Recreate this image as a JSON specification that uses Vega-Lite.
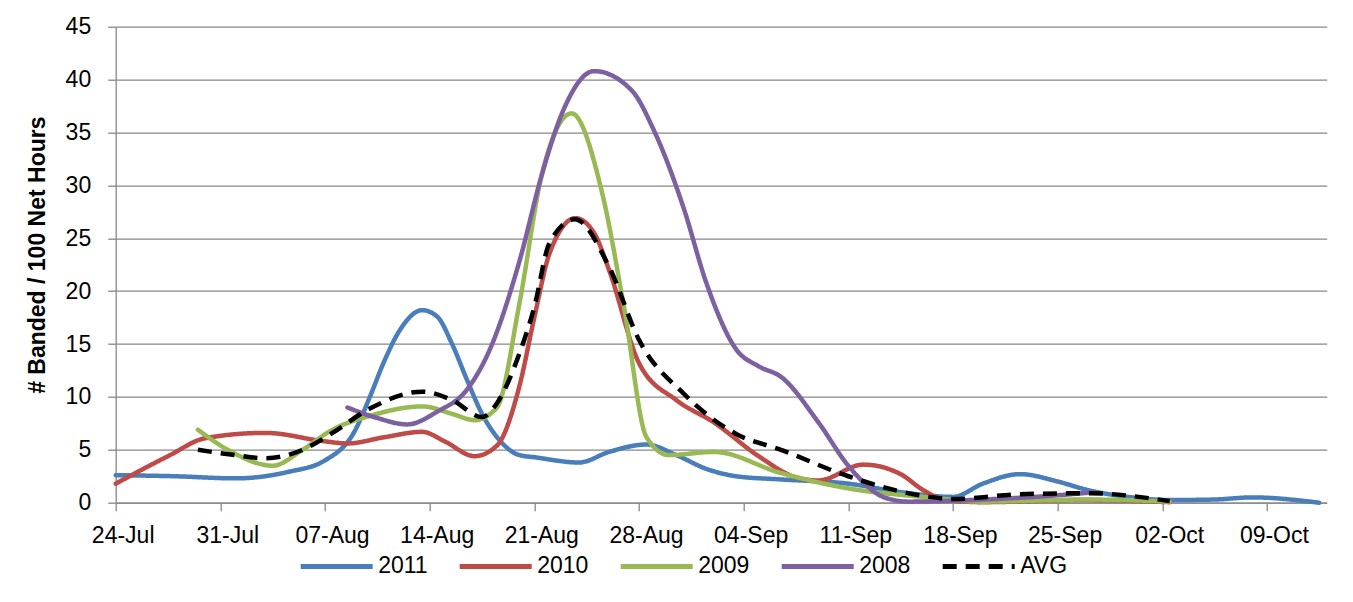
{
  "$schema": "https://vega.github.io/schema/vega-lite/v6.json",
  "width": 1211,
  "height": 476,
  "autosize": "none",
  "padding": {"left": 115.7, "top": 26.7, "right": 26.3, "bottom": 99.3},
  "background": "white",
  "config": {
    "view": {"stroke": null},
    "font": "Liberation Sans",
    "legend": {
      "orient": "none",
      "legendX": 182.5,
      "legendY": 501,
      "direction": "horizontal",
      "symbolType": "stroke",
      "symbolSize": 5184,
      "symbolStrokeWidth": 5,
      "labelFontSize": 23,
      "labelFont": "Liberation Sans",
      "labelColor": "black",
      "labelOffset": 3,
      "columnPadding": 21
    }
  },
  "data": {
    "values": [
      {"s": "2011", "d": "2011-07-24T00:00:00Z", "v": 2.6},
      {"s": "2011", "d": "2011-07-28T00:00:00Z", "v": 2.5},
      {"s": "2011", "d": "2011-08-01T00:00:00Z", "v": 2.3},
      {"s": "2011", "d": "2011-08-04T12:00:00Z", "v": 2.9},
      {"s": "2011", "d": "2011-08-07T00:00:00Z", "v": 4.0},
      {"s": "2011", "d": "2011-08-09T00:00:00Z", "v": 6.8},
      {"s": "2011", "d": "2011-08-10T00:00:00Z", "v": 10.0},
      {"s": "2011", "d": "2011-08-11T00:00:00Z", "v": 13.5},
      {"s": "2011", "d": "2011-08-12T00:00:00Z", "v": 16.3},
      {"s": "2011", "d": "2011-08-13T12:00:00Z", "v": 18.2},
      {"s": "2011", "d": "2011-08-14T12:00:00Z", "v": 17.6},
      {"s": "2011", "d": "2011-08-15T12:00:00Z", "v": 15.0},
      {"s": "2011", "d": "2011-08-16T12:00:00Z", "v": 11.6},
      {"s": "2011", "d": "2011-08-17T12:00:00Z", "v": 8.4},
      {"s": "2011", "d": "2011-08-18T12:00:00Z", "v": 6.2},
      {"s": "2011", "d": "2011-08-20T00:00:00Z", "v": 4.5},
      {"s": "2011", "d": "2011-08-21T00:00:00Z", "v": 4.3},
      {"s": "2011", "d": "2011-08-24T00:00:00Z", "v": 3.8},
      {"s": "2011", "d": "2011-08-26T00:00:00Z", "v": 4.8},
      {"s": "2011", "d": "2011-08-28T12:00:00Z", "v": 5.5},
      {"s": "2011", "d": "2011-08-30T12:00:00Z", "v": 4.5},
      {"s": "2011", "d": "2011-09-01T12:00:00Z", "v": 3.2},
      {"s": "2011", "d": "2011-09-03T12:00:00Z", "v": 2.5},
      {"s": "2011", "d": "2011-09-06T12:00:00Z", "v": 2.2},
      {"s": "2011", "d": "2011-09-11T00:00:00Z", "v": 1.8},
      {"s": "2011", "d": "2011-09-14T12:00:00Z", "v": 1.0},
      {"s": "2011", "d": "2011-09-18T00:00:00Z", "v": 0.55},
      {"s": "2011", "d": "2011-09-20T00:00:00Z", "v": 1.8},
      {"s": "2011", "d": "2011-09-22T12:00:00Z", "v": 2.7},
      {"s": "2011", "d": "2011-09-25T00:00:00Z", "v": 2.0},
      {"s": "2011", "d": "2011-09-27T00:00:00Z", "v": 1.2},
      {"s": "2011", "d": "2011-09-30T00:00:00Z", "v": 0.5},
      {"s": "2011", "d": "2011-10-02T12:00:00Z", "v": 0.25},
      {"s": "2011", "d": "2011-10-05T12:00:00Z", "v": 0.3},
      {"s": "2011", "d": "2011-10-08T00:00:00Z", "v": 0.5},
      {"s": "2011", "d": "2011-10-12T12:00:00Z", "v": 0.0},

      {"s": "2010", "d": "2011-07-24T00:00:00Z", "v": 1.8},
      {"s": "2010", "d": "2011-07-27T12:00:00Z", "v": 4.4},
      {"s": "2010", "d": "2011-07-30T00:00:00Z", "v": 6.1},
      {"s": "2010", "d": "2011-08-03T00:00:00Z", "v": 6.6},
      {"s": "2010", "d": "2011-08-07T00:00:00Z", "v": 5.8},
      {"s": "2010", "d": "2011-08-08T12:00:00Z", "v": 5.6},
      {"s": "2010", "d": "2011-08-11T00:00:00Z", "v": 6.2},
      {"s": "2010", "d": "2011-08-13T12:00:00Z", "v": 6.7},
      {"s": "2010", "d": "2011-08-15T00:00:00Z", "v": 5.8},
      {"s": "2010", "d": "2011-08-17T00:00:00Z", "v": 4.4},
      {"s": "2010", "d": "2011-08-18T12:00:00Z", "v": 5.4},
      {"s": "2010", "d": "2011-08-20T00:00:00Z", "v": 11.0},
      {"s": "2010", "d": "2011-08-21T00:00:00Z", "v": 17.5},
      {"s": "2010", "d": "2011-08-22T00:00:00Z", "v": 23.5},
      {"s": "2010", "d": "2011-08-23T18:00:00Z", "v": 26.9},
      {"s": "2010", "d": "2011-08-25T00:00:00Z", "v": 25.5},
      {"s": "2010", "d": "2011-08-26T00:00:00Z", "v": 22.0},
      {"s": "2010", "d": "2011-08-28T00:00:00Z", "v": 13.2},
      {"s": "2010", "d": "2011-08-30T12:00:00Z", "v": 9.7},
      {"s": "2010", "d": "2011-09-02T00:00:00Z", "v": 7.6},
      {"s": "2010", "d": "2011-09-05T00:00:00Z", "v": 4.4},
      {"s": "2010", "d": "2011-09-07T12:00:00Z", "v": 2.4},
      {"s": "2010", "d": "2011-09-09T00:00:00Z", "v": 2.1},
      {"s": "2010", "d": "2011-09-12T00:00:00Z", "v": 3.6},
      {"s": "2010", "d": "2011-09-14T12:00:00Z", "v": 2.7},
      {"s": "2010", "d": "2011-09-16T00:00:00Z", "v": 1.2},
      {"s": "2010", "d": "2011-09-17T12:00:00Z", "v": 0.25},
      {"s": "2010", "d": "2011-09-20T00:00:00Z", "v": 0.05},
      {"s": "2010", "d": "2011-09-26T12:00:00Z", "v": 0.25},
      {"s": "2010", "d": "2011-10-02T12:00:00Z", "v": 0.05},

      {"s": "2009", "d": "2011-07-29T12:00:00Z", "v": 6.9},
      {"s": "2009", "d": "2011-07-31T12:00:00Z", "v": 5.0},
      {"s": "2009", "d": "2011-08-03T12:00:00Z", "v": 3.5},
      {"s": "2009", "d": "2011-08-05T12:00:00Z", "v": 5.0},
      {"s": "2009", "d": "2011-08-07T12:00:00Z", "v": 6.9},
      {"s": "2009", "d": "2011-08-10T00:00:00Z", "v": 8.2},
      {"s": "2009", "d": "2011-08-13T12:00:00Z", "v": 9.1},
      {"s": "2009", "d": "2011-08-15T12:00:00Z", "v": 8.4},
      {"s": "2009", "d": "2011-08-17T00:00:00Z", "v": 7.8},
      {"s": "2009", "d": "2011-08-18T12:00:00Z", "v": 9.0},
      {"s": "2009", "d": "2011-08-20T00:00:00Z", "v": 18.8},
      {"s": "2009", "d": "2011-08-21T12:00:00Z", "v": 31.0},
      {"s": "2009", "d": "2011-08-23T12:00:00Z", "v": 36.8},
      {"s": "2009", "d": "2011-08-25T12:00:00Z", "v": 29.5},
      {"s": "2009", "d": "2011-08-27T00:00:00Z", "v": 18.5},
      {"s": "2009", "d": "2011-08-28T12:00:00Z", "v": 6.2},
      {"s": "2009", "d": "2011-08-30T00:00:00Z", "v": 4.5},
      {"s": "2009", "d": "2011-09-02T00:00:00Z", "v": 4.8},
      {"s": "2009", "d": "2011-09-06T12:00:00Z", "v": 2.8},
      {"s": "2009", "d": "2011-09-11T00:00:00Z", "v": 1.35},
      {"s": "2009", "d": "2011-09-16T00:00:00Z", "v": 0.55},
      {"s": "2009", "d": "2011-09-20T00:00:00Z", "v": 0.1},
      {"s": "2009", "d": "2011-09-27T00:00:00Z", "v": 0.3},
      {"s": "2009", "d": "2011-10-02T12:00:00Z", "v": 0.1},

      {"s": "2008", "d": "2011-08-08T12:00:00Z", "v": 9.0},
      {"s": "2008", "d": "2011-08-10T12:00:00Z", "v": 8.0},
      {"s": "2008", "d": "2011-08-12T12:00:00Z", "v": 7.4},
      {"s": "2008", "d": "2011-08-14T12:00:00Z", "v": 8.6},
      {"s": "2008", "d": "2011-08-16T12:00:00Z", "v": 10.7},
      {"s": "2008", "d": "2011-08-18T00:00:00Z", "v": 14.4},
      {"s": "2008", "d": "2011-08-20T00:00:00Z", "v": 22.8},
      {"s": "2008", "d": "2011-08-21T12:00:00Z", "v": 31.0},
      {"s": "2008", "d": "2011-08-23T00:00:00Z", "v": 37.3},
      {"s": "2008", "d": "2011-08-25T00:00:00Z", "v": 40.8},
      {"s": "2008", "d": "2011-08-27T12:00:00Z", "v": 39.0},
      {"s": "2008", "d": "2011-08-29T00:00:00Z", "v": 35.2},
      {"s": "2008", "d": "2011-08-31T00:00:00Z", "v": 27.8},
      {"s": "2008", "d": "2011-09-01T12:00:00Z", "v": 20.8},
      {"s": "2008", "d": "2011-09-03T12:00:00Z", "v": 14.5},
      {"s": "2008", "d": "2011-09-05T00:00:00Z", "v": 12.9},
      {"s": "2008", "d": "2011-09-06T12:00:00Z", "v": 11.9},
      {"s": "2008", "d": "2011-09-09T00:00:00Z", "v": 7.6},
      {"s": "2008", "d": "2011-09-11T00:00:00Z", "v": 3.5},
      {"s": "2008", "d": "2011-09-13T12:00:00Z", "v": 0.45},
      {"s": "2008", "d": "2011-09-15T00:00:00Z", "v": 0.1},
      {"s": "2008", "d": "2011-09-20T00:00:00Z", "v": 0.3},
      {"s": "2008", "d": "2011-09-24T00:00:00Z", "v": 0.6},
      {"s": "2008", "d": "2011-09-27T12:00:00Z", "v": 1.0},

      {"s": "AVG", "d": "2011-07-29T12:00:00Z", "v": 5.0},
      {"s": "AVG", "d": "2011-08-01T00:00:00Z", "v": 4.5},
      {"s": "AVG", "d": "2011-08-03T00:00:00Z", "v": 4.2},
      {"s": "AVG", "d": "2011-08-05T12:00:00Z", "v": 5.0},
      {"s": "AVG", "d": "2011-08-07T12:00:00Z", "v": 6.6},
      {"s": "AVG", "d": "2011-08-10T00:00:00Z", "v": 8.9},
      {"s": "AVG", "d": "2011-08-13T12:00:00Z", "v": 10.5},
      {"s": "AVG", "d": "2011-08-15T12:00:00Z", "v": 9.7},
      {"s": "AVG", "d": "2011-08-17T12:00:00Z", "v": 8.1},
      {"s": "AVG", "d": "2011-08-18T12:00:00Z", "v": 9.4},
      {"s": "AVG", "d": "2011-08-20T00:00:00Z", "v": 14.1},
      {"s": "AVG", "d": "2011-08-21T00:00:00Z", "v": 18.5},
      {"s": "AVG", "d": "2011-08-22T00:00:00Z", "v": 24.5},
      {"s": "AVG", "d": "2011-08-23T17:00:00Z", "v": 26.8},
      {"s": "AVG", "d": "2011-08-26T00:00:00Z", "v": 22.3},
      {"s": "AVG", "d": "2011-08-28T00:00:00Z", "v": 15.4},
      {"s": "AVG", "d": "2011-08-31T00:00:00Z", "v": 10.3},
      {"s": "AVG", "d": "2011-09-03T12:00:00Z", "v": 6.5},
      {"s": "AVG", "d": "2011-09-06T12:00:00Z", "v": 5.0},
      {"s": "AVG", "d": "2011-09-11T00:00:00Z", "v": 2.5},
      {"s": "AVG", "d": "2011-09-16T00:00:00Z", "v": 0.65},
      {"s": "AVG", "d": "2011-09-18T00:00:00Z", "v": 0.35},
      {"s": "AVG", "d": "2011-09-22T12:00:00Z", "v": 0.8},
      {"s": "AVG", "d": "2011-09-27T00:00:00Z", "v": 0.9},
      {"s": "AVG", "d": "2011-10-02T12:00:00Z", "v": 0.15}
    ]
  },
  "encoding": {
    "x": {
      "field": "d",
      "type": "temporal",
      "scale": {
        "type": "utc",
        "domain": [
          {"year": 2011, "month": 7, "date": 24, "utc": true},
          {"year": 2011, "month": 10, "date": 13, "utc": true}
        ]
      },
      "axis": {
        "title": null,
        "values": [
          {"year": 2011, "month": 7, "date": 24, "utc": true},
          {"year": 2011, "month": 7, "date": 31, "utc": true},
          {"year": 2011, "month": 8, "date": 7, "utc": true},
          {"year": 2011, "month": 8, "date": 14, "utc": true},
          {"year": 2011, "month": 8, "date": 21, "utc": true},
          {"year": 2011, "month": 8, "date": 28, "utc": true},
          {"year": 2011, "month": 9, "date": 4, "utc": true},
          {"year": 2011, "month": 9, "date": 11, "utc": true},
          {"year": 2011, "month": 9, "date": 18, "utc": true},
          {"year": 2011, "month": 9, "date": 25, "utc": true},
          {"year": 2011, "month": 10, "date": 2, "utc": true},
          {"year": 2011, "month": 10, "date": 9, "utc": true}
        ],
        "labelExpr": "utcFormat(datum.value, '%d-%b')",
        "grid": false,
        "labelFlush": false,
        "labelBound": false,
        "labelOverlap": false,
        "labelOffset": 7,
        "labelPadding": 14,
        "labelFontSize": 23,
        "labelColor": "black",
        "tickSize": 8,
        "tickColor": "#878787",
        "tickWidth": 1.3,
        "domainColor": "#878787",
        "domainWidth": 1.3
      }
    },
    "y": {
      "field": "v",
      "type": "quantitative",
      "scale": {"domain": [0, 45], "nice": false},
      "axis": {
        "title": "# Banded / 100 Net Hours",
        "titleFontSize": 23,
        "titleFontWeight": "bold",
        "titleColor": "black",
        "titlePadding": 16,
        "titleY": 228,
        "values": [0, 5, 10, 15, 20, 25, 30, 35, 40, 45],
        "grid": true,
        "gridColor": "#878787",
        "gridWidth": 1.3,
        "labelFontSize": 23,
        "labelColor": "black",
        "labelPadding": 17,
        "tickSize": 8,
        "tickColor": "#878787",
        "tickWidth": 1.3,
        "domainColor": "#878787",
        "domainWidth": 1.3
      }
    },
    "color": {
      "field": "s",
      "type": "nominal",
      "scale": {
        "domain": ["2011", "2010", "2009", "2008", "AVG"],
        "range": ["#4A7EBB", "#BE4B48", "#98B954", "#7D60A0", "#000000"]
      },
      "legend": {"title": null}
    },
    "strokeDash": {
      "field": "s",
      "type": "nominal",
      "scale": {
        "domain": ["2011", "2010", "2009", "2008", "AVG"],
        "range": [[1, 0], [1, 0], [1, 0], [1, 0], [14, 9]]
      },
      "legend": {"title": null}
    }
  },
  "layer": [
    {
      "transform": [{"filter": "datum.s !== 'AVG'"}],
      "mark": {"type": "line", "interpolate": "monotone", "strokeWidth": 4.5, "strokeCap": "round", "strokeJoin": "round"}
    },
    {
      "transform": [{"filter": "datum.s === 'AVG'"}],
      "mark": {"type": "line", "interpolate": "monotone", "strokeWidth": 4.5, "strokeCap": "butt"}
    }
  ]
}
